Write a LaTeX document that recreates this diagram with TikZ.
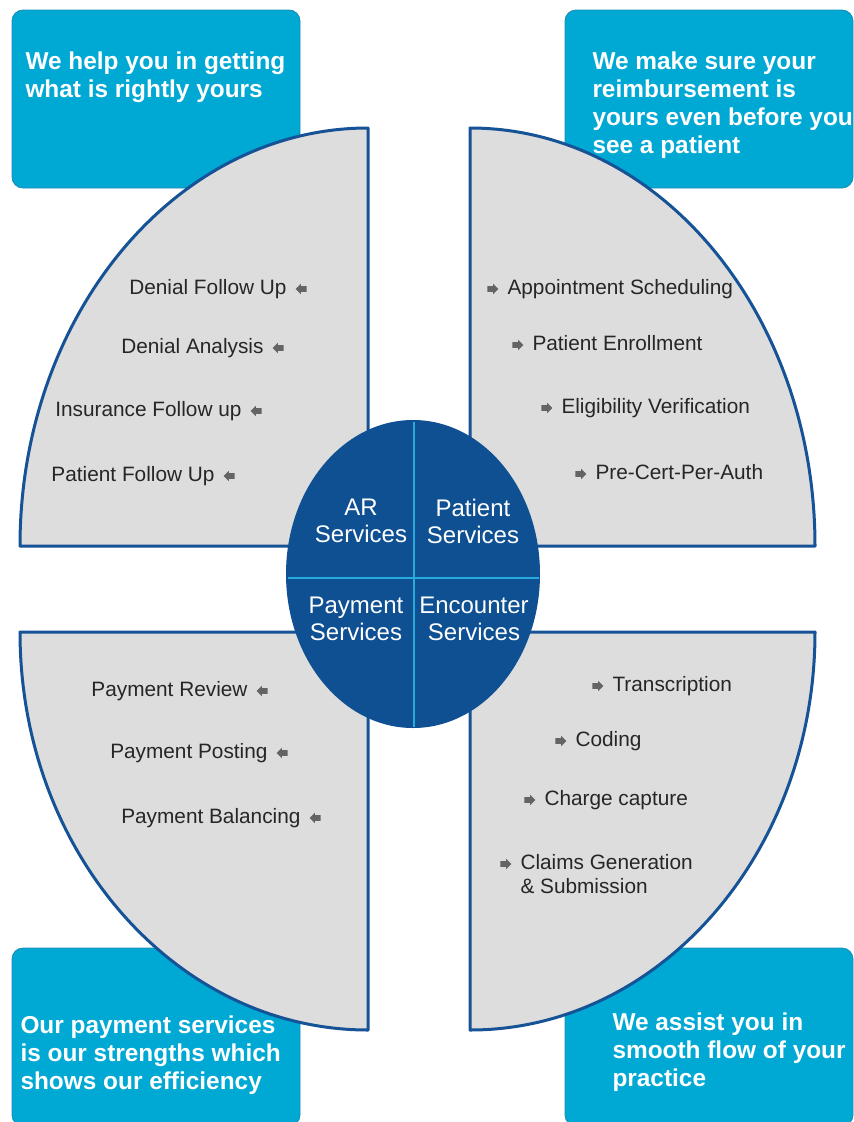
\documentclass[tikz,border=0pt]{standalone}
\usepackage{fontspec}
\setmainfont{Liberation Sans}
\usetikzlibrary{%
  positioning,% wg. " of "
  shapes.geometric,%
  shapes.arrows%
}

\definecolor{boxblue}{RGB}{0,168,212}
\definecolor{boxedge}{RGB}{25,140,180}
\definecolor{quadgray}{RGB}{221,221,221}
\definecolor{quadedge}{RGB}{22,82,150}
\definecolor{hubblue}{RGB}{14,80,146}
\definecolor{hubline}{RGB}{40,170,220}
\definecolor{tipgray}{RGB}{100,100,100}

\begin{document}
\begin{tikzpicture}
[x=1pt, y=-1pt, line width=1pt,
msgbox/.style={fill=boxblue, draw=boxedge, line width=0.8pt, rounded corners=11pt},
msgtext/.style={anchor=north west, inner sep=0pt, align=left, text=white, font=\fontsize{24.4}{28}\selectfont\bfseries},
quad/.style={fill=quadgray, draw=quadedge, line width=3pt, line join=round},
hub/.style={ellipse, fill=hubblue, inner sep=0pt, minimum width=254pt, minimum height=308pt},
hubtext/.style={align=center, text=white, inner sep=0pt, font=\fontsize{24}{27}\selectfont},
item/.style={inner sep=0pt, text=black!85, font=\fontsize{20.8}{24}\selectfont},
ltip/.style={single arrow, fill=tipgray, inner sep=2.4pt, minimum height=11pt, single arrow head extend=2.2pt, shape border rotate=180},
rtip/.style={single arrow, fill=tipgray, inner sep=2.4pt, minimum height=11pt, single arrow head extend=2.2pt}]

\useasboundingbox (0,0) rectangle (854,1122);

\foreach \x/\y in {12/10, 565/10, 12/948, 565/948} {
  \draw[msgbox] (\x,\y) rectangle ++(288,178);
}

\draw[quad] (368,546) -- (368,128) arc[start angle=-90, end angle=-180, x radius=348, y radius=418] -- cycle;
\draw[quad] (470,546) -- (470,128) arc[start angle=-90, end angle=0, x radius=345, y radius=418] -- cycle;
\draw[quad] (368,632) -- (20,632) arc[start angle=180, end angle=90, x radius=348, y radius=398] -- cycle;
\draw[quad] (470,632) -- (815,632) arc[start angle=0, end angle=90, x radius=345, y radius=398] -- cycle;

\node[hub] (hub) at (413,574) {};
\draw[hubline, line width=2pt, shorten <=2pt, shorten >=2pt] ([xshift=1pt]hub.north) -- ([xshift=1pt]hub.south);
\draw[hubline, line width=2pt, shorten <=2pt, shorten >=2pt] ([yshift=-4pt]hub.west) -- ([yshift=-4pt]hub.east);

\node[hubtext] (arsvc) at (361,521) {AR\\Services};
\node[hubtext] (patsvc) at (473,521) {Patient\\Services};
\node[hubtext] (paysvc) at (356,619) {Payment\\Services};
\node[hubtext] (encsvc) at (474,619) {Encounter\\Services};

\node[msgtext] (msgtl) at (25,51) {We help you in getting\\what is rightly yours};
\node[msgtext] (msgtr) at (592,51) {We make sure your\\reimbursement is\\yours even before you\\see a patient};
\node[msgtext] (msgbl) at (20,1015.5) {Our payment services\\is our strengths which\\shows our efficiency};
\node[msgtext] (msgbr) at (612,1012.5) {We assist you in\\smooth flow of your\\practice};

\foreach \n/\x/\y/\t in {ar1/287/294/Denial Follow Up, ar2/264/353/Denial Analysis, ar3/242/416/Insurance Follow up, ar4/215/481/Patient Follow Up, pay1/248/696/Payment Review, pay2/268/758/Payment Posting, pay3/301/823/Payment Balancing} {
  \node[item, anchor=base east] (\n) at (\x,\y) {\t};
  \node[ltip, right=8pt of \n.base east, yshift=5pt] (tip\n) {};
}

\foreach \n/\x/\y/\t in {pat1/507/294/Appointment Scheduling, pat2/532/350/Patient Enrollment, pat3/561/413/Eligibility Verification, pat4/595/479/Pre-Cert-Per-Auth, enc1/612/691/Transcription, enc2/575/746/Coding, enc3/544/805/Charge capture} {
  \node[item, anchor=base west] (\n) at (\x,\y) {\t};
  \node[rtip, left=8pt of \n.base west, yshift=5pt] (tip\n) {};
}

\node[item, anchor=north west, align=left] (enc4) at (520,854) {Claims Generation\\\& Submission};
\node[rtip, left=8pt of enc4.north west, yshift=-10pt] (tipenc4) {};
\end{tikzpicture}
\end{document}
